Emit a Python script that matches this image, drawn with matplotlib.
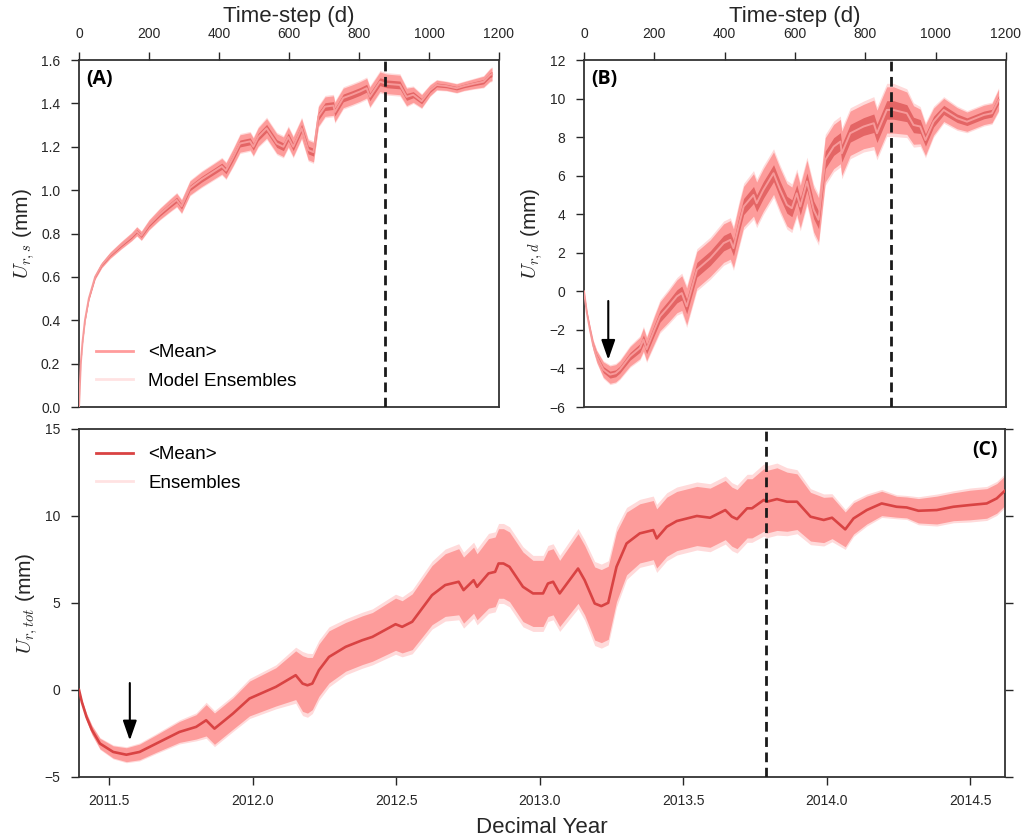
import matplotlib
matplotlib.use('Agg')
import matplotlib.pyplot as plt
from matplotlib.lines import Line2D
from matplotlib.ticker import FormatStrFormatter
import numpy as np

plt.rcParams['font.family'] = ['Liberation Sans', 'DejaVu Sans']
plt.rcParams['mathtext.fontset'] = 'cm'

# panel A : U_r,s vs time-step (days)
days_a = [0, 5, 10, 17, 28, 46, 65, 89, 120, 150,
          165, 178, 200, 231, 260, 279, 293, 317, 350, 384,
          408, 420, 440, 460, 489, 498, 512, 536, 565, 584,
          598, 612, 636, 655, 670, 684, 703, 727, 731, 755,
          780, 803, 822, 831, 860, 879, 917, 936, 955, 979,
          1003, 1022, 1050, 1079, 1100, 1127, 1156, 1174, 1180]
mean_a = [0, 0.2, 0.3, 0.4, 0.5, 0.6, 0.655, 0.7, 0.745, 0.785,
          0.81, 0.79, 0.84, 0.89, 0.93, 0.955, 0.925, 1.01, 1.05, 1.085,
          1.11, 1.09, 1.15, 1.215, 1.225, 1.20, 1.245, 1.285, 1.215, 1.20,
          1.245, 1.20, 1.285, 1.185, 1.175, 1.34, 1.385, 1.39, 1.36, 1.425,
          1.44, 1.455, 1.47, 1.43, 1.50, 1.49, 1.485, 1.43, 1.44, 1.41,
          1.46, 1.485, 1.48, 1.47, 1.48, 1.49, 1.50, 1.53, 1.535]
spread_a = [0, 0.003, 0.005, 0.006, 0.008, 0.01, 0.012, 0.014, 0.016, 0.018,
            0.02, 0.02, 0.022, 0.025, 0.028, 0.03, 0.03, 0.032, 0.034, 0.035,
            0.036, 0.036, 0.038, 0.04, 0.04, 0.04, 0.042, 0.045, 0.045, 0.045,
            0.045, 0.045, 0.045, 0.045, 0.045, 0.045, 0.045, 0.045, 0.045, 0.045,
            0.045, 0.045, 0.045, 0.045, 0.045, 0.045, 0.045, 0.04, 0.035, 0.03,
            0.025, 0.022, 0.02, 0.02, 0.02, 0.022, 0.025, 0.028, 0.03]

# panel B : U_r,d vs time-step (days)
days_b = [0, 8, 17, 26, 36, 55, 74, 90, 102, 131,
          159, 169, 178, 200, 216, 240, 264, 278, 292, 321,
          359, 397, 416, 425, 440, 454, 482, 491, 510, 539,
          558, 577, 591, 605, 615, 634, 653, 667, 686, 710,
          729, 733, 757, 795, 824, 833, 861, 880, 918, 937,
          956, 971, 994, 1023, 1061, 1089, 1137, 1160, 1179]
mean_b = [0, -1.1, -2.0, -2.8, -3.37, -4.06, -4.32, -4.25, -4.06, -3.37,
          -2.94, -2.5, -3.0, -2.0, -1.3, -0.8, -0.26, -0.09, -0.78, 1.12,
          1.72, 2.5, 2.67, 2.24, 3.4, 4.4, 5.0, 4.57, 5.26, 6.13,
          5.26, 4.49, 4.31, 5.09, 4.4, 5.7, 4.23, 3.71, 6.82, 7.51,
          7.77, 7.16, 8.2, 8.55, 8.72, 8.2, 9.41, 9.41, 9.24, 8.63,
          8.55, 7.85, 8.8, 9.41, 8.98, 8.8, 9.15, 9.24, 9.93]
spread_b = [0, 0.1, 0.2, 0.25, 0.3, 0.4, 0.45, 0.45, 0.45, 0.5,
            0.55, 0.6, 0.6, 0.7, 0.75, 0.8, 0.85, 0.9, 0.95, 0.95,
            0.95, 1.0, 1.0, 1.0, 1.05, 1.05, 1.1, 1.1, 1.1, 1.1,
            1.1, 1.1, 1.1, 1.1, 1.1, 1.1, 1.15, 1.15, 1.15, 1.15,
            1.15, 1.15, 1.15, 1.15, 1.2, 1.2, 1.2, 1.2, 1.1, 1.0,
            0.9, 0.8, 0.7, 0.6, 0.55, 0.5, 0.5, 0.5, 0.55]

# panel C : U_r,tot vs decimal year
years_c = [2011.395, 2011.405, 2011.421, 2011.44, 2011.468, 2011.514, 2011.560, 2011.606, 2011.664, 2011.745,
           2011.803, 2011.838, 2011.867, 2011.931, 2011.989, 2012.081, 2012.150, 2012.174, 2012.191, 2012.208,
           2012.231, 2012.266, 2012.324, 2012.382, 2012.417, 2012.498, 2012.521, 2012.556, 2012.625, 2012.671,
           2012.718, 2012.735, 2012.770, 2012.782, 2012.822, 2012.845, 2012.857, 2012.874, 2012.895, 2012.942,
           2012.977, 2013.012, 2013.029, 2013.047, 2013.070, 2013.134, 2013.157, 2013.192, 2013.215, 2013.239,
           2013.268, 2013.303, 2013.349, 2013.396, 2013.408, 2013.443, 2013.478, 2013.548, 2013.594, 2013.647,
           2013.670, 2013.688, 2013.723, 2013.740, 2013.781, 2013.792, 2013.827, 2013.862, 2013.897, 2013.944,
           2013.990, 2014.019, 2014.065, 2014.094, 2014.140, 2014.192, 2014.244, 2014.279, 2014.320, 2014.384,
           2014.442, 2014.500, 2014.558, 2014.593, 2014.620]
mean_c = [0, -0.7, -1.55, -2.3, -3.08, -3.56, -3.72, -3.56, -3.08, -2.41,
          -2.12, -1.74, -2.22, -1.36, -0.49, 0.18, 0.85, 0.37, 0.27, 0.37,
          1.14, 1.90, 2.48, 2.86, 3.05, 3.78, 3.63, 3.92, 5.45, 6.03,
          6.22, 5.74, 6.31, 5.93, 6.70, 6.79, 7.27, 7.27, 7.08, 5.93,
          5.55, 5.55, 6.12, 6.22, 5.55, 6.98, 6.31, 4.97, 4.82, 5.01,
          7.08, 8.42, 9.0, 9.19, 8.71, 9.38, 9.71, 10.0, 9.90, 10.34,
          9.96, 9.82, 10.44, 10.44, 10.92, 10.82, 10.97, 10.82, 10.82, 9.96,
          9.77, 9.90, 9.23, 9.86, 10.34, 10.72, 10.53, 10.49, 10.30, 10.34,
          10.53, 10.63, 10.72, 11.01, 11.43]
spread_c = [0, 0.1, 0.2, 0.25, 0.3, 0.35, 0.4, 0.45, 0.5, 0.6,
            0.7, 0.9, 0.9, 0.9, 1.0, 1.1, 1.4, 1.6, 1.6, 1.5,
            1.5, 1.5, 1.4, 1.4, 1.4, 1.5, 1.5, 1.6, 1.7, 1.8,
            1.9, 1.9, 1.9, 1.9, 2.0, 2.0, 2.0, 2.0, 2.0, 2.0,
            1.9, 1.9, 1.9, 1.9, 1.9, 2.0, 2.0, 2.1, 2.1, 2.1,
            2.0, 1.8, 1.7, 1.7, 1.7, 1.7, 1.7, 1.7, 1.7, 1.7,
            1.7, 1.7, 1.7, 1.7, 1.8, 1.8, 1.8, 1.7, 1.6, 1.4,
            1.3, 1.2, 1.0, 0.9, 0.8, 0.7, 0.6, 0.6, 0.7, 0.8,
            0.8, 0.85, 0.85, 0.85, 0.85]

split_day = 874
split_year = 2013.788

fig = plt.figure(figsize=(10.21, 8.38), dpi=100)
axA = fig.add_axes([0.0774, 0.5143, 0.4113, 0.4141])
axB = fig.add_axes([0.572, 0.5143, 0.4133, 0.4141])
axC = fig.add_axes([0.0774, 0.0728, 0.907, 0.4153])

tick_col = '#262626'


def ensemble_band(ax, x, m, s, inner=True):
    x = np.array(x); m = np.array(m); s = np.array(s)
    ax.fill_between(x, m - 1.15 * s, m + 1.15 * s, color='#ffdada', lw=0, zorder=1)
    ax.fill_between(x, m - s, m + s, color='#fd9c9b', lw=0, zorder=2)
    if inner:
        ax.fill_between(x, m - 0.4 * s, m + 0.4 * s, color='#e46565', lw=0, zorder=3)


ensemble_band(axA, days_a, mean_a, spread_a)
axA.plot(days_a, mean_a, color='#f79a9a', lw=1.4, zorder=4)
ensemble_band(axB, days_b, mean_b, spread_b)
axB.plot(days_b, mean_b, color='#f79a9a', lw=1.4, zorder=4)
ensemble_band(axC, years_c, mean_c, spread_c, inner=False)
axC.plot(years_c, mean_c, color='#d94343', lw=1.9, zorder=4)

for ax in (axA, axB):
    ax.axvline(split_day, color='#1a1a1a', lw=2, ls=(0, (3.5, 2)), zorder=5)
    ax.set_xlim(0, 1200)
    ax.set_xticks(range(0, 1201, 200))
    ax.xaxis.tick_top()
    ax.xaxis.set_label_position('top')
    ax.set_xlabel('Time-step (d)', fontsize=16, labelpad=4, color=tick_col)
    ax.tick_params(axis='x', top=True, bottom=False, labelbottom=False, labeltop=True)
axC.axvline(split_year, color='#1a1a1a', lw=2, ls=(0, (3.5, 2)), zorder=5)

axA.set_ylim(0, 1.6)
axA.set_yticks(np.arange(0, 1.61, 0.2))
axA.yaxis.set_major_formatter(FormatStrFormatter('%.1f'))
axB.set_ylim(-6, 12)
axB.set_yticks(range(-6, 13, 2))
axC.set_xlim(2011.395, 2014.622)
axC.set_xticks([2011.5, 2012.0, 2012.5, 2013.0, 2013.5, 2014.0, 2014.5])
axC.xaxis.set_major_formatter(FormatStrFormatter('%.1f'))
axC.set_ylim(-5, 15)
axC.set_yticks(range(-5, 16, 5))
axC.tick_params(axis='y', right=True, labelright=False)
axC.set_xlabel('Decimal Year', fontsize=16, labelpad=6, color=tick_col)

axA.set_ylabel(r'$U_{r,s}$ (mm)', fontsize=15, labelpad=3, color=tick_col)
axB.set_ylabel(r'$U_{r,d}$ (mm)', fontsize=15, labelpad=3, color=tick_col)
axC.set_ylabel(r'$U_{r,tot}$ (mm)', fontsize=15, labelpad=3, color=tick_col)

for ax in (axA, axB, axC):
    ax.tick_params(direction='out', length=6, width=1, labelsize=10,
                   colors=tick_col)
    ax.tick_params(axis='y', pad=7.5)
    for sp in ax.spines.values():
        sp.set_color('#333333')
        sp.set_linewidth(1.3)
axA.tick_params(axis='x', pad=7.5)
axB.tick_params(axis='x', pad=7.5)
axC.tick_params(axis='x', pad=6.5)

axA.text(0.017, 0.975, '(A)', transform=axA.transAxes, ha='left', va='top',
         fontsize=14, fontweight='bold', family=['Open Sans', 'DejaVu Sans'])
axB.text(0.017, 0.975, '(B)', transform=axB.transAxes, ha='left', va='top',
         fontsize=14, fontweight='bold', family=['Open Sans', 'DejaVu Sans'])
axC.text(0.992, 0.968, '(C)', transform=axC.transAxes, ha='right', va='top',
         fontsize=14, fontweight='bold', family=['Open Sans', 'DejaVu Sans'])

arrow = dict(arrowstyle='-|>,head_length=0.8,head_width=0.28', color='k',
             lw=1.5, mutation_scale=15, shrinkA=0, shrinkB=0)
axB.annotate('', xy=(69, -3.55), xytext=(69, -0.5), arrowprops=arrow, zorder=6)
axC.annotate('', xy=(2011.572, -2.9), xytext=(2011.572, 0.4), arrowprops=arrow, zorder=6)

hA = [Line2D([], [], color='#ff9c9c', lw=2), Line2D([], [], color='#ffe2e2', lw=2)]
axA.legend(hA, ['<Mean>', 'Model Ensembles'], loc='lower left',
           bbox_to_anchor=(0.04, 0.05), frameon=False, fontsize=13.5,
           handlelength=2.0, handletextpad=0.8, labelspacing=0.6,
           borderpad=0, borderaxespad=0)
hC = [Line2D([], [], color='#d94343', lw=2), Line2D([], [], color='#ffe2e2', lw=2)]
axC.legend(hC, ['<Mean>', 'Ensembles'], loc='upper left',
           bbox_to_anchor=(0.018, 0.95), frameon=False, fontsize=13.5,
           handlelength=2.0, handletextpad=0.8, labelspacing=0.6,
           borderpad=0, borderaxespad=0)

fig.savefig('out.png', dpi=100)
